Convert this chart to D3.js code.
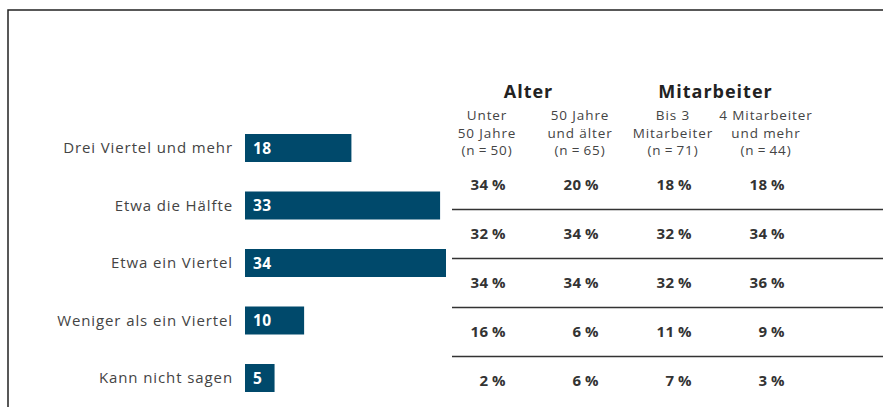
<!DOCTYPE html>
<html lang="de">
<head>
<meta charset="utf-8">
<title>Anteil – Balken und Tabelle</title>
<script src="https://cdn.jsdelivr.net/npm/d3@7"></script>
<style>
  body { margin: 0; background: #fff; }
  svg { display: block; font-family: "Open Sans", "Noto Sans", sans-serif; }
</style>
</head>
<body>
<script>
// data
var categories = ["Drei Viertel und mehr", "Etwa die Hälfte", "Etwa ein Viertel", "Weniger als ein Viertel", "Kann nicht sagen"];
var totals = [18, 33, 34, 10, 5];

var groups = ["Alter", "Mitarbeiter"];
var columns = [
  ["Unter", "50 Jahre", "(n\u2009=\u200950)"],
  ["50 Jahre", "und älter", "(n\u2009=\u200965)"],
  ["Bis 3", "Mitarbeiter", "(n\u2009=\u200971)"],
  ["4 Mitarbeiter", "und mehr", "(n\u2009=\u200944)"]
];
var columnGroup = [0, 0, 1, 1];
// one array per column, in category order
var under50 = [34, 32, 34, 16, 2];
var over50 = [20, 34, 34, 6, 6];
var upTo3 = [18, 32, 32, 11, 7];
var from4 = [18, 34, 36, 9, 3];
var tableValues = [under50, over50, upTo3, from4];

var w = 883, h = 407;

var svg = d3.select("body").append("svg")
  .attr("width", w)
  .attr("height", h);

// frame
svg.append("rect")
  .attr("x", 8).attr("y", 10)
  .attr("width", w).attr("height", h)
  .attr("fill", "none")
  .attr("stroke", "#222")
  .attr("stroke-width", 1.5);

// bars
var x = d3.scaleLinear().domain([0, 34]).range([245, 446]);
var y = d3.scalePoint().domain(categories).range([148, 378]);
var barH = 28;

var bars = svg.append("g");
bars.selectAll("rect")
  .data(categories)
  .enter().append("rect")
  .attr("x", x(0))
  .attr("y", function(d) { return y(d) - barH / 2; })
  .attr("width", function(d, i) { return x(totals[i]) - x(0); })
  .attr("height", barH)
  .attr("fill", "#00496b");

bars.selectAll("text.val")
  .data(categories)
  .enter().append("text")
  .attr("class", "val")
  .attr("x", x(0) + 8)
  .attr("y", function(d) { return y(d); })
  .attr("dy", "0.36em")
  .attr("fill", "#fff")
  .attr("font-size", 15.5)
  .attr("font-weight", 700)
  .attr("letter-spacing", 0.5)
  .text(function(d, i) { return totals[i]; });

bars.selectAll("text.cat")
  .data(categories)
  .enter().append("text")
  .attr("class", "cat")
  .attr("x", 233)
  .attr("y", function(d) { return y(d); })
  .attr("dy", "0.36em")
  .attr("text-anchor", "end")
  .attr("fill", "#444")
  .attr("font-size", 15)
  .attr("letter-spacing", 0.9)
  .text(function(d) { return d; });

// table
var colX = d3.scalePoint().domain(d3.range(columns.length)).range([487, 766]);
var rowY = d3.scalePoint().domain(categories).range([185, 381]);
var table = svg.append("g");

// group headers
groups.forEach(function(g, gi) {
  var cols = d3.range(columns.length).filter(function(c) { return columnGroup[c] === gi; });
  var cx = (colX(cols[0]) + colX(cols[cols.length - 1])) / 2;
  table.append("text")
    .attr("x", cx + (gi === 0 ? -5 : -4))
    .attr("y", 98)
    .attr("text-anchor", "middle")
    .attr("font-size", 18)
    .attr("font-weight", 700)
    .attr("letter-spacing", 1)
    .attr("fill", "#222")
    .text(g);
});

// column headers
columns.forEach(function(lines, c) {
  var t = table.append("text")
    .attr("text-anchor", "middle")
    .attr("font-size", 13.5)
    .attr("letter-spacing", 0.9)
    .attr("fill", "#444");
  lines.forEach(function(line, li) {
    t.append("tspan")
      .attr("x", colX(c))
      .attr("y", 120 + li * 17.5)
      .text(line);
  });
});

// row separators
var step = rowY.step();
table.selectAll("line")
  .data(categories.slice(1))
  .enter().append("line")
  .attr("x1", 452).attr("x2", w)
  .attr("y1", function(d) { return rowY(d) - step / 2; })
  .attr("y2", function(d) { return rowY(d) - step / 2; })
  .attr("stroke", "#333")
  .attr("stroke-width", 1.5);

// values
tableValues.forEach(function(vals, c) {
  table.selectAll("text.c" + c)
    .data(categories)
    .enter().append("text")
    .attr("class", "c" + c)
    .attr("x", colX(c) + 19)
    .attr("y", function(d) { return rowY(d); })
    .attr("dy", "0.36em")
    .attr("text-anchor", "end")
    .attr("font-size", 15)
    .attr("font-weight", 700)
    .attr("letter-spacing", 0.6)
    .attr("fill", "#333")
    .text(function(d, i) { return vals[i] + "\u2009%"; });
});
</script>
</body>
</html>
